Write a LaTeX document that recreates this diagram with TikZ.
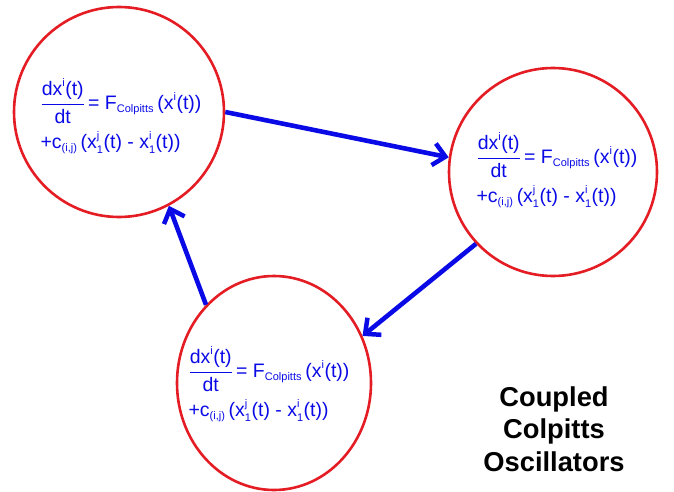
\documentclass[tikz,border=0pt]{standalone}
\usepackage{amsmath}
\usepackage{fontspec}
\setmainfont{Liberation Sans}
\usetikzlibrary{arrows.meta,shapes.geometric}
\definecolor{ringred}{RGB}{228,28,36}
\definecolor{linkblue}{RGB}{10,10,230}
\tikzset{
  osc/.style={circle,draw=ringred,line width=2.6pt,minimum size=210pt,inner sep=0pt},
  link/.style={-{Straight Barb[length=12pt,width=22pt,line width=4.5pt]},draw=linkblue,line width=4.6pt},
}
\newcommand{\tx}[1]{\text{#1}}
\newcommand{\sm}[1]{\mbox{\fontsize{11}{12}\selectfont #1}}
\newcommand{\colpeq}{%
  $\dfrac{\tx{dx}^{\sm{i}}\tx{(t)}}{\tx{dt}}\tx{\,= F}_{\sm{Colpitts}}\tx{\,(x}^{\sm{i}}\tx{(t))}$\\[7pt]
  $\tx{+c}_{\sm{(i,j)}}\tx{\,(x}^{\sm{j}}_{\sm{1}}\tx{(t) - x}^{\sm{i}}_{\sm{1}}\tx{(t))}$}

\begin{document}
\begin{tikzpicture}[x=1pt,y=-1pt,
   eq/.style={text=linkblue,align=left,font=\fontsize{19.5}{22}\selectfont,inner sep=0pt},
   title/.style={align=center,font=\fontsize{27.3}{32.5}\selectfont\bfseries}]
  \useasboundingbox (0,0) rectangle (674,492);
  \node[osc] (c1) at (119,112) {};
  \node[osc,minimum size=208pt] (c2) at (553,172) {};
  \node[osc,ellipse,minimum width=194pt,minimum height=214pt] (c3) at (274,383) {};
  \node[eq] (e1) at (121,116) {\colpeq};
  \node[eq] (e2) at (557,170) {\colpeq};
  \node[eq] (e3) at (269,384) {\colpeq};
  % coupling ring
  \draw[link] (c1.0) -- (c2.172);
  \draw[link] (c2.223) -- (c3.28);
  \draw[link] (c3.131) -- (c1.298);
  \node[title] (ttl) at (554,429) {Coupled\\Colpitts\\Oscillators};
\end{tikzpicture}
\end{document}
